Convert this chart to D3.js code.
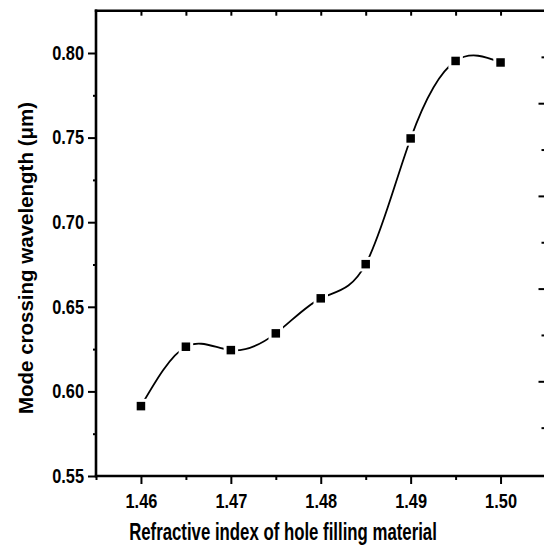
<!DOCTYPE html>
<html>
<head>
<meta charset="utf-8">
<script src="https://cdn.jsdelivr.net/npm/d3@7/dist/d3.min.js"></script>
<style>
  html, body { margin: 0; padding: 0; background: #fff; }
  svg { display: block; }
</style>
</head>
<body>
<div id="chart"></div>
<script>
// ---- data ----
const refractiveIndex = [1.46, 1.465, 1.47, 1.475, 1.48, 1.485, 1.49, 1.495, 1.50];
const crossingWavelength = [0.5913, 0.6264, 0.6244, 0.6343, 0.6550, 0.6752, 0.7495, 0.7953, 0.7944];
const xTickLabels = ["1.46", "1.47", "1.48", "1.49", "1.50"];
const yTickLabels = ["0.55", "0.60", "0.65", "0.70", "0.75", "0.80"];
const xTitle = "Refractive index of hole filling material";
const yTitle = "Mode crossing wavelength (\u03bcm)";
// ticks of the neighbouring (cropped) panel's axis at the right edge
const neighbourMajor = [1, 2, 3, 4];
const neighbourMinor = [0.5, 1.5, 2.5, 3.5, 4.5];

(function () {
// ---- layout ----
const W = 544, H = 547;
const pLeft = 96, pRight = 545.5, pTop = 10.7, pBottom = 476;

const svg = d3.select("#chart").append("svg")
  .attr("width", W).attr("height", H);

const x = d3.scaleLinear().domain([1.455, 1.505]).range([pLeft, pRight]);
const y = d3.scaleLinear().domain([0.55, 0.825]).range([pBottom, pTop]);
const yN = d3.scaleLinear().domain([0, 5]).range([474, 10.5]);

const font = "'Liberation Sans', Arial, sans-serif";
const sx = 0.84;

function styleTicks(g) {
  g.select(".domain").remove();
  g.selectAll(".tick line").attr("stroke", "#000").attr("stroke-width", 2);
}

// bottom axis major
const xMajorVals = xTickLabels.map(Number);
const xMinorVals = [1.455, 1.465, 1.475, 1.485, 1.495];
const gx = svg.append("g").attr("transform", `translate(0,${pBottom})`);
gx.call(d3.axisBottom(x).tickValues(xMajorVals).tickSize(8).tickPadding(10)
  .tickFormat((d, i) => xTickLabels[i]));
styleTicks(gx);
gx.selectAll(".tick text").attr("font-family", font).attr("font-weight", "bold")
  .attr("font-size", 19.5).attr("fill", "#000").attr("transform", `scale(${sx},1)`);
const gxm = svg.append("g").attr("transform", `translate(0,${pBottom})`);
gxm.call(d3.axisBottom(x).tickValues(xMinorVals).tickSize(4).tickFormat(""));
styleTicks(gxm);

// top axis (inward ticks)
const topVals = [1.46, 1.465, 1.47, 1.475, 1.48, 1.485, 1.49, 1.495, 1.50];
const gt = svg.append("g").attr("transform", `translate(0,${pTop})`);
gt.call(d3.axisTop(x).tickValues(topVals).tickSize(-5).tickFormat(""));
styleTicks(gt);

// left axis
const yMajorVals = yTickLabels.map(Number);
const yMinorVals = [0.575, 0.625, 0.675, 0.725, 0.775];
const gy = svg.append("g").attr("transform", `translate(${pLeft},0)`);
gy.call(d3.axisLeft(y).tickValues(yMajorVals).tickSize(8).tickPadding(4)
  .tickFormat((d, i) => yTickLabels[i]));
styleTicks(gy);
gy.selectAll(".tick text").attr("font-family", font).attr("font-weight", "bold")
  .attr("font-size", 19.5).attr("fill", "#000")
  .attr("x", -12 / sx).attr("transform", `scale(${sx},1)`);
const gym = svg.append("g").attr("transform", `translate(${pLeft},0)`);
gym.call(d3.axisLeft(y).tickValues(yMinorVals).tickSize(3).tickFormat(""));
styleTicks(gym);

// neighbour panel ticks at right edge
const gn = svg.append("g").attr("transform", `translate(${544.5},0)`);
gn.call(d3.axisLeft(yN).tickValues(neighbourMajor).tickSize(6).tickFormat(""));
styleTicks(gn);
const gn2 = svg.append("g").attr("transform", `translate(${544.5},0)`);
gn2.call(d3.axisLeft(yN).tickValues(neighbourMinor).tickSize(3).tickFormat(""));
styleTicks(gn2);

// frame lines (left, bottom, top)
svg.append("line").attr("x1", pLeft).attr("x2", pLeft).attr("y1", pTop - 1.2).attr("y2", pBottom + 1.2)
  .attr("stroke", "#000").attr("stroke-width", 2.6);
svg.append("line").attr("x1", pLeft - 1.2).attr("x2", W).attr("y1", pBottom).attr("y2", pBottom)
  .attr("stroke", "#000").attr("stroke-width", 2.6);
svg.append("line").attr("x1", pLeft - 1.2).attr("x2", W).attr("y1", pTop).attr("y2", pTop)
  .attr("stroke", "#000").attr("stroke-width", 2.6);

// curve
const pts = refractiveIndex.map((v, i) => [v, crossingWavelength[i]]);
const line = d3.line().x(d => x(d[0])).y(d => y(d[1])).curve(d3.curveNatural);
svg.append("path").attr("d", line(pts)).attr("fill", "none")
  .attr("stroke", "#000").attr("stroke-width", 1.8);

// markers with white halo (gap)
const ms = 8.5, gap = 3;
svg.append("g").selectAll("rect").data(pts).join("rect")
  .attr("x", d => x(d[0]) - ms / 2 - gap).attr("y", d => y(d[1]) - ms / 2 - gap)
  .attr("width", ms + 2 * gap).attr("height", ms + 2 * gap).attr("fill", "#fff");
svg.append("g").selectAll("rect").data(pts).join("rect")
  .attr("x", d => x(d[0]) - ms / 2).attr("y", d => y(d[1]) - ms / 2)
  .attr("width", ms).attr("height", ms).attr("fill", "#000");

// titles
svg.append("text").attr("transform", `translate(283,540) scale(0.73,1)`)
  .attr("text-anchor", "middle").attr("font-family", font).attr("font-weight", "bold")
  .attr("font-size", 23).attr("fill", "#000").text(xTitle);
svg.append("text").attr("transform", `translate(33,258) rotate(-90)`)
  .attr("text-anchor", "middle").attr("font-family", font)
  .attr("font-weight", "bold").attr("font-size", 20.5).attr("fill", "#000").text(yTitle);
})();
</script>
</body>
</html>
